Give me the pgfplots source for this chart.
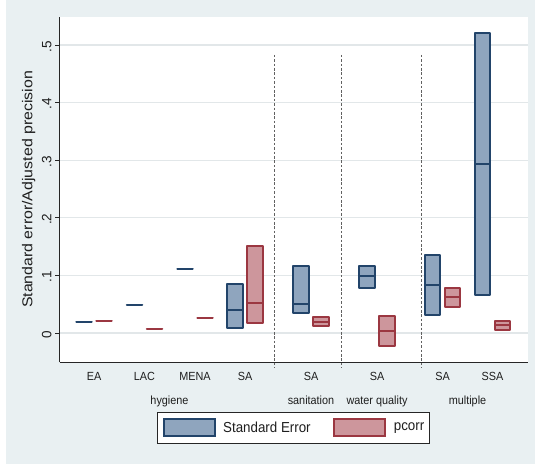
\documentclass[border=0pt]{standalone}
\usepackage{pgfplots}
\pgfplotsset{compat=1.18}
\usepackage{fontspec}
\setmainfont{Liberation Sans}[FakeStretch=0.92]
\newfontfamily\plainsans{Liberation Sans}
\definecolor{bgc}{RGB}{233,240,242}
\definecolor{sefill}{RGB}{143,165,190}
\definecolor{sedraw}{RGB}{34,68,106}
\definecolor{pcfill}{RGB}{205,150,156}
\definecolor{pcdraw}{RGB}{155,55,65}
\definecolor{gridc}{RGB}{226,231,233}
\definecolor{txt}{RGB}{30,30,30}
% box: x-left, x-right, lower quartile, median, upper quartile
\newcommand\seBox[5]{%
  \addplot[forget plot, draw=sedraw, fill=sefill, line width=2pt, line join=round] coordinates {(#1,#3) (#2,#3) (#2,#5) (#1,#5)} -- cycle;
  \addplot[forget plot, draw=sedraw, line width=2pt] coordinates {(#1,#4) (#2,#4)};}
\newcommand\pcBox[5]{%
  \addplot[forget plot, draw=pcdraw, fill=pcfill, line width=2pt, line join=round] coordinates {(#1,#3) (#2,#3) (#2,#5) (#1,#5)} -- cycle;
  \addplot[forget plot, draw=pcdraw, line width=2pt] coordinates {(#1,#4) (#2,#4)};}
\begin{document}
\begin{tikzpicture}
\path[use as bounding box] (-59.5pt,-102pt) rectangle (475.5pt,362pt);
\fill[bgc] (-53.5pt,-102pt) rectangle (475.5pt,362pt);
\begin{axis}[
  at={(0pt,0pt)}, anchor=south west,
  scale only axis, width=468pt, height=345pt,
  xmin=59.5, xmax=527.5, ymin=-0.0503, ymax=0.5486,
  clip=false,
  axis background/.style={fill=white},
  axis x line*=bottom, axis y line*=left,
  axis line style={-, line width=0.9pt, black!85},
  xtick={94,144.5,195,245,311,377,442.5,492.5},
  xticklabels={EA,LAC,MENA,SA,SA,SA,SA,SSA},
  x tick style={draw=none},
  xticklabel style={anchor=base, yshift=-14pt, font=\fontsize{11.8}{12}\selectfont, text=txt},
  extra x ticks={169.5,311,377,467.5},
  extra x tick labels={hygiene,sanitation,water quality,multiple},
  extra x tick style={grid=none, tick style={draw=none}, tick label style={yshift=-23.5pt}},
  ytick={0,0.1,0.2,0.3,0.4,0.5},
  yticklabels={0,.1,.2,.3,.4,.5},
  tick align=outside,
  major tick length=4.5pt,
  y tick style={line width=0.8pt, black!85},
  yticklabel style={rotate=90, anchor=south, xshift=-1.5pt, font=\plainsans\fontsize{13.5}{14}\selectfont, text=txt},
  ymajorgrids,
  grid style={color=gridc, line width=1.3pt},
  ylabel={\scalebox{1}[0.9]{Standard error/Adjusted precision}},
  ylabel style={at={(axis description cs:-0.058,0.5)}, anchor=base, rotate=0, font=\plainsans\fontsize{15.9}{16}\selectfont, text=txt},
  legend style={at={(0.5,-0.144)}, anchor=north, draw=black!85, fill=white, line width=0.7pt,
    legend columns=2, font=\fontsize{14.5}{15}\selectfont, text=txt,
    inner xsep=5pt, inner ysep=6.3pt,
    nodes={inner sep=0pt},
    /tikz/every odd column/.append style={column sep=7.7pt},
    /tikz/every even column/.append style={column sep=22.7pt}},
  legend cell align=left,
]
\addlegendimage{legend image code/.code={\draw[fill=sefill,draw=sedraw,line width=1.8pt] (0pt,-8.5pt) rectangle (51pt,8.5pt);}}
\addlegendentry{Standard Error}
\addlegendimage{legend image code/.code={\draw[fill=pcfill,draw=pcdraw,line width=1.8pt] (0pt,-8.5pt) rectangle (51pt,8.5pt);}}
\addlegendentry{pcorr}

% dashed separators
\addplot[forget plot, draw=black!62, line width=1pt, dash pattern=on 2.6pt off 1.8pt] coordinates {(274,0.483) (274,-0.061)};
\addplot[forget plot, draw=black!62, line width=1pt, dash pattern=on 2.6pt off 1.8pt] coordinates {(341,0.483) (341,-0.061)};
\addplot[forget plot, draw=black!62, line width=1pt, dash pattern=on 2.6pt off 1.8pt] coordinates {(421.5,0.483) (421.5,-0.061)};

% Standard Error (blue)
\seBox{76.25}{91.75}{0.020}{0.020}{0.020}
\seBox{126.75}{142.25}{0.048}{0.048}{0.048}
\seBox{177.25}{192.75}{0.112}{0.112}{0.112}
\seBox{227.25}{242.75}{0.0087}{0.040}{0.0845}
\seBox{293.25}{308.75}{0.0342}{0.0509}{0.1169}
\seBox{359.25}{374.75}{0.0775}{0.099}{0.1169}
\seBox{424.75}{440.25}{0.0307}{0.0828}{0.135}
\seBox{474.75}{490.25}{0.066}{0.294}{0.520}
% pcorr (red)
\pcBox{96.25}{111.75}{0.021}{0.021}{0.021}
\pcBox{146.75}{162.25}{0.007}{0.007}{0.007}
\pcBox{197.25}{212.75}{0.0255}{0.0255}{0.0255}
\pcBox{247.25}{262.75}{0.0174}{0.0515}{0.1516}
\pcBox{313.25}{328.75}{0.0122}{0.0197}{0.0272}
\pcBox{379.25}{394.75}{-0.022}{0.0035}{0.029}
\pcBox{444.75}{460.25}{0.0457}{0.0625}{0.0787}
\pcBox{494.75}{510.25}{0.0052}{0.0139}{0.0214}
\end{axis}
\end{tikzpicture}
\end{document}
